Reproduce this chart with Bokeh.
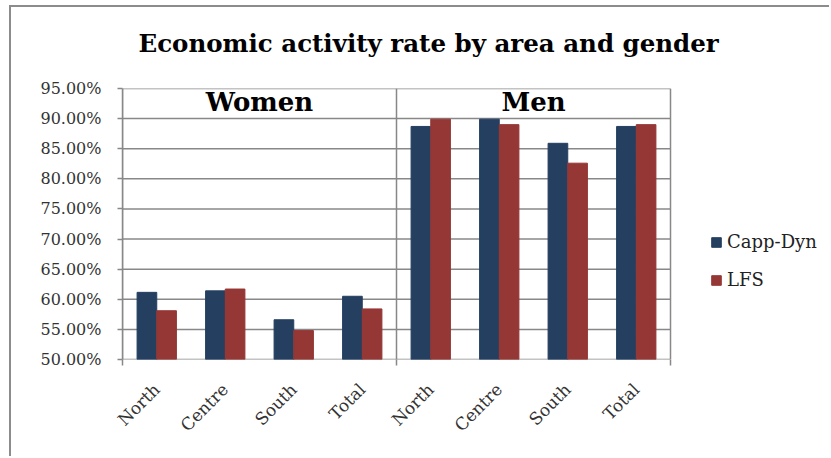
from bokeh.plotting import figure
from bokeh.models import (FixedTicker, NumeralTickFormatter, Legend, LegendItem,
                          ColumnDataSource, Range1d, Title)
from bokeh.embed import file_html
from bokeh.resources import INLINE
from bokeh.core.properties import value

# ---- data ----
groups = ["Women", "Men"]
areas = ["North", "Centre", "South", "Total"]
capp_dyn = [0.6115, 0.614, 0.566, 0.605, 0.887, 0.899, 0.859, 0.887]
lfs = [0.581, 0.617, 0.548, 0.584, 0.899, 0.890, 0.826, 0.890]
y_ticks = [0.50, 0.55, 0.60, 0.65, 0.70, 0.75, 0.80, 0.85, 0.90, 0.95]
series_names = ["Capp-Dyn", "LFS"]
series_colors = ["#243F60", "#953735"]

Y_MIN, Y_MAX = y_ticks[0], y_ticks[-1]
FONT = "DejaVu Serif"
GRID = "#888888"

labels = [a for g in groups for a in areas]
n = len(labels)
centers = [i + 0.5 for i in range(n)]
bw = 0.287

# layout (pixels)
W, H = 820, 451
LEFT, RIGHT, TOP, PLOT_W, PLOT_H = 111, 12, 81, 548, 271
FRAME_W = W - LEFT - RIGHT
x_end = n * FRAME_W / PLOT_W

src = ColumnDataSource(dict(
    xc=[c - bw / 2 for c in centers],
    xl=[c + bw / 2 for c in centers],
    capp=capp_dyn, lfs=lfs, base=[Y_MIN] * n,
))

p = figure(width=W, height=H, output_backend="svg", toolbar_location=None,
           x_range=Range1d(0, x_end), y_range=Range1d(Y_MIN, Y_MAX),
           min_border_left=LEFT, min_border_right=RIGHT, min_border_top=TOP,
           min_border_bottom=H - TOP - PLOT_H, background_fill_color="white",
           border_fill_color="white")
p.styles = {"border-left": "2px solid #8c8c8c", "border-top": "2px solid #8c8c8c",
            "margin-left": "9px", "margin-top": "5px"}

p.title.text = "Economic activity rate by area and gender"
p.title.text_font = FONT
p.title.text_font_size = "24.5px"
p.title.text_font_style = "bold"
p.title.text_color = "#000000"
p.title.align = "left"
p.title.offset = 16
p.title.standoff = 0

# empty spacer between the title and the plot area
p.add_layout(Title(text=" ", text_font_size="10px", standoff=18), "above")

# plot-area table lines (horizontal grid + vertical separators)
p.segment(x0=[0] * len(y_ticks), x1=[n] * len(y_ticks), y0=y_ticks, y1=y_ticks,
          line_color=GRID, line_width=1.5)
seps = [g * len(areas) for g in range(len(groups) + 1)]
p.segment(x0=seps, x1=seps, y0=[Y_MIN] * len(seps), y1=[Y_MAX] * len(seps),
          line_color=GRID, line_width=1.5)

r1 = p.vbar(x="xc", top="capp", bottom="base", width=bw, source=src,
            fill_color=series_colors[0], line_color=series_colors[0])
r2 = p.vbar(x="xl", top="lfs", bottom="base", width=bw, source=src,
            fill_color=series_colors[1], line_color=series_colors[1])

p.grid.visible = False
p.outline_line_color = None

# y axis
p.yaxis.ticker = FixedTicker(ticks=y_ticks)
p.yaxis.formatter = NumeralTickFormatter(format="0.00%")
p.yaxis.major_label_text_font = FONT
p.yaxis.major_label_text_font_size = "16px"
p.yaxis.major_label_text_color = "#333333"
p.yaxis.axis_line_color = GRID
p.yaxis.axis_line_width = 1.5
p.yaxis.major_tick_line_color = GRID
p.yaxis.major_tick_line_width = 1.5
p.yaxis.major_tick_out = 5
p.yaxis.major_tick_in = 0
p.yaxis.minor_tick_line_color = None
p.yaxis.major_label_standoff = 16

# x axis
p.xaxis.ticker = FixedTicker(ticks=centers, minor_ticks=seps)
p.xaxis.major_label_overrides = {c: l for c, l in zip(centers, labels)}
p.xaxis.major_label_orientation = 0.7853981634
p.xaxis.major_label_text_font = FONT
p.xaxis.major_label_text_font_size = "17px"
p.xaxis.major_label_text_color = "#333333"
p.xaxis.axis_line_color = None
p.xaxis.major_tick_line_color = None
p.xaxis.minor_tick_line_color = GRID
p.xaxis.minor_tick_line_width = 1.5
p.xaxis.minor_tick_out = 6
p.xaxis.minor_tick_in = 0
p.xaxis.major_label_standoff = 21

# group headers
p.text(x=[g * len(areas) + len(areas) / 2 for g in range(len(groups))],
       y=[(y_ticks[-1] + y_ticks[-2]) / 2] * len(groups), text=groups,
       text_font=value(FONT), text_font_size="26px", text_font_style="bold",
       text_align="center", text_baseline="middle", text_color="#000000",
       y_offset=-2)

legend = Legend(items=[LegendItem(label=series_names[0], renderers=[r1]),
                       LegendItem(label=series_names[1], renderers=[r2])],
                location=(588, 69), border_line_color=None, background_fill_alpha=0,
                padding=0, margin=0, glyph_width=12, glyph_height=12,
                label_height=20, spacing=17, label_standoff=5,
                label_text_font=FONT, label_text_font_size="18px",
                label_text_color="#222222")
p.add_layout(legend, "center")

open("out.html", "w").write(file_html(p, INLINE))
